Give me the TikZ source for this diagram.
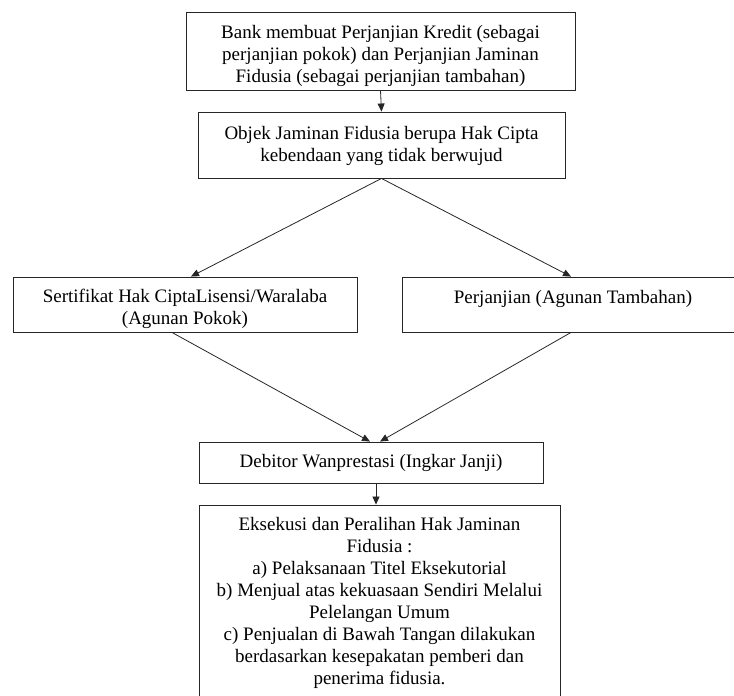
\documentclass[tikz,border=0pt]{standalone}
\usepackage{fontspec}
\setmainfont{Liberation Serif}
\usetikzlibrary{arrows.meta}
\begin{document}
\begin{tikzpicture}[x=1pt,y=-1pt,
  box/.style={draw=black!85, line width=0.9pt, rectangle, inner sep=0pt},
  txt/.style={align=center, inner sep=0pt, font=\fontsize{19}{22}\selectfont},
  arr/.style={draw=black!85, line width=0.8pt, -{Triangle[length=8pt,width=7pt]}}]
\clip (0,0) rectangle (734,696);
\useasboundingbox (0,0) rectangle (734,696);
\node[box, minimum width=389pt, minimum height=78pt] (b1) at (380.5,51) {};
\node[txt] (t1) at (380.5,56)
  {Bank membuat Perjanjian Kredit (sebagai\\ perjanjian pokok) dan Perjanjian Jaminan\\ Fidusia (sebagai perjanjian tambahan)};
\node[box, minimum width=367pt, minimum height=66pt] (b2) at (381.5,145) {};
\node[txt] (t2) at (381.5,145.5)
  {Objek Jaminan Fidusia berupa Hak Cipta\\ kebendaan yang tidak berwujud};
\node[box, minimum width=344pt, minimum height=55pt] (b3) at (185,304.5) {};
\node[txt] (t3) at (185,309)
  {Sertifikat Hak CiptaLisensi/Waralaba\\ (Agunan Pokok)};
\node[box, minimum width=342pt, minimum height=55pt] (b4) at (573,304.5) {};
\node[txt] (t4) at (573,298.5) {Perjanjian (Agunan Tambahan)};
\node[box, minimum width=344pt, minimum height=41pt] (b5) at (371,462.5) {};
\node[txt] (t5) at (371,463) {Debitor Wanprestasi (Ingkar Janji)};
\node[box, minimum width=361pt, minimum height=200pt] (b6) at (379.5,605) {};
\node[txt] (t6) at (379.5,603)
  {Eksekusi dan Peralihan Hak Jaminan\\ Fidusia :\\ a) Pelaksanaan Titel Eksekutorial\\ b) Menjual atas kekuasaan Sendiri Melalui\\ Pelelangan Umum\\ c) Penjualan di Bawah Tangan dilakukan\\ berdasarkan kesepakatan pemberi dan\\ penerima fidusia.};
\draw[arr] (b1.south) -- (b2.north);
\draw[arr] (b2.south) -- ([xshift=6pt]b3.north);
\draw[arr] (b2.south) -- ([xshift=-2pt]b4.north);
\draw[arr] ([xshift=-13pt]b3.south) -- ([xshift=-1pt]b5.north);
\draw[arr] ([xshift=-2pt]b4.south) -- ([xshift=9pt]b5.north);
\draw[arr] ([xshift=5pt]b5.south) -- ([xshift=-3.5pt]b6.north);
\end{tikzpicture}
\end{document}
